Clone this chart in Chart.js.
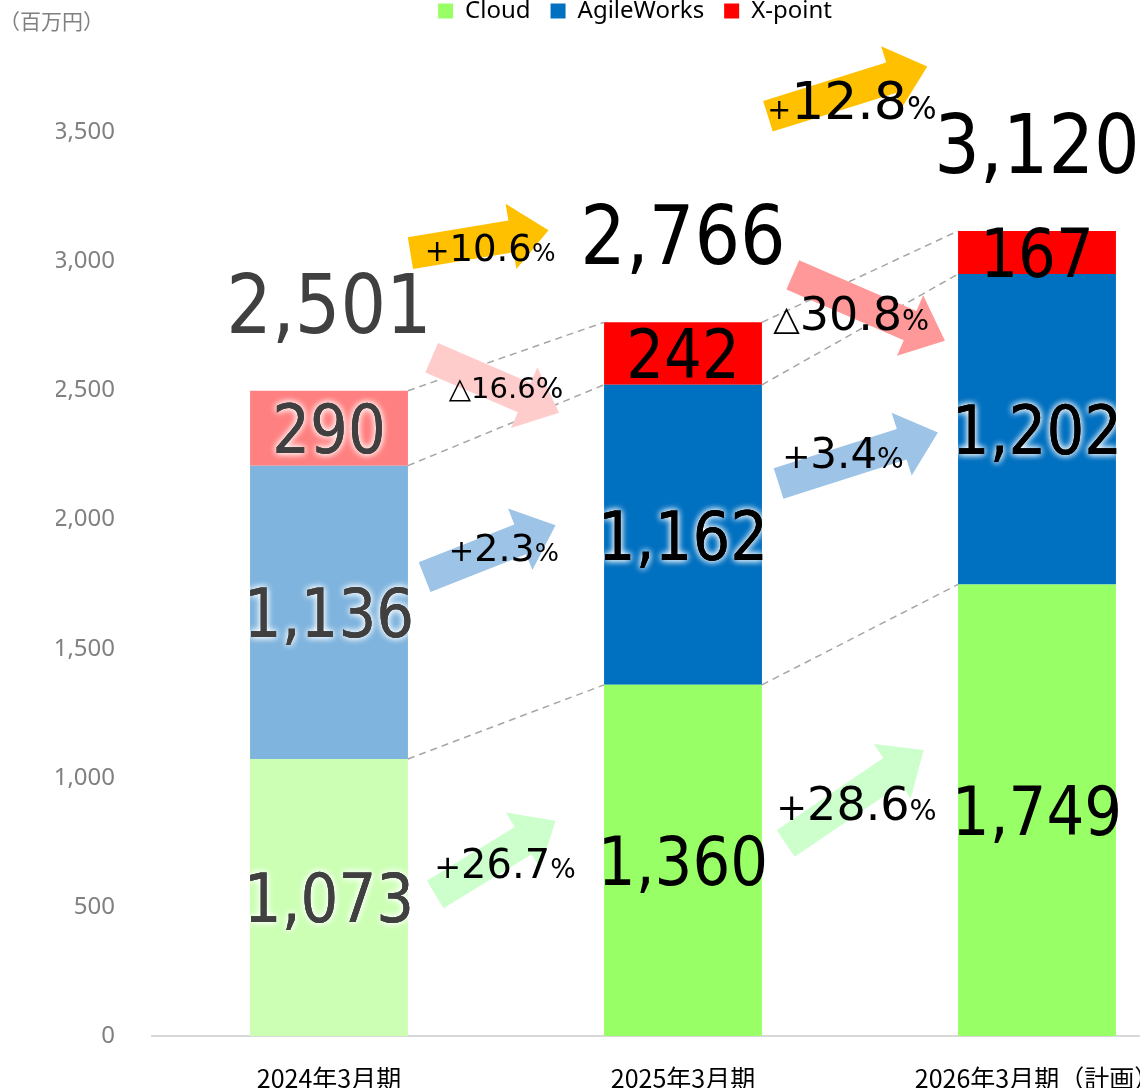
<!DOCTYPE html>
<html>
<head>
<meta charset="utf-8">
<script src="https://cdn.jsdelivr.net/npm/chart.js@4"></script>
<style>
  html, body { margin: 0; padding: 0; background: #fff; overflow: hidden; }
  #wrap { position: relative; width: 1140px; height: 1088px; overflow: hidden; }
  #chart { position: absolute; left: 0; top: -21px; }
</style>
</head>
<body>
<div id="wrap"><canvas id="chart" width="1214" height="1110"></canvas></div>
<script>
const categories = ['2024年3月期', '2025年3月期', '2026年3月期（計画）'];
const seriesNames = ['Cloud', 'AgileWorks', 'X-point'];
const cloud = [1073, 1360, 1749];
const agileWorks = [1136, 1162, 1202];
const xPoint = [290, 242, 167];
const totals = [2501, 2766, 3120];
const yTicks = [0, 500, 1000, 1500, 2000, 2500, 3000, 3500];

// growth rates (%) per series: Cloud, AgileWorks, X-point, total
const growth2025 = ['+26.7', '+2.3', '△16.6', '+10.6'];
const growth2026 = ['+28.6', '+3.4', '△30.8', '+12.8'];

// colours
const cloudColors = ['#ccffb4', '#99ff66', '#99ff66'];
const agileColors = ['#7fb4de', '#0070c0', '#0070c0'];
const xpointColors = ['#ff8080', '#ff0000', '#ff0000'];
const legendColors = ['#99ff66', '#0070c0', '#ff0000'];

// arrows: tail [category pos, value], head [category pos, value], colour
const arrowShapes = [
  [[0.30, 548], [0.64, 834], '#ccffcc'],
  [[0.27, 1777], [0.64, 1978], '#9dc3e6'],
  [[0.29, 2627], [0.65, 2414], '#ffcccc'],
  [[0.23, 3032], [0.62, 3121], '#ffc000'],
  [[1.29, 746], [1.68, 1108], '#ccffcc'],
  [[1.27, 2140], [1.72, 2337], '#9dc3e6'],
  [[1.31, 2948], [1.74, 2693], '#ff9999'],
  [[1.24, 3562], [1.69, 3755], '#ffc000']
];
// growth label centre [category pos, value], font size, prefix scale, % scale
const growthLabelPos = [
  [0.497, 668, 40, 0.8, 0.67],
  [0.494, 1893, 38, 0.8, 0.67],
  [0.50, 2511, 29, 1.0, 1.0],
  [0.455, 3052, 37, 0.8, 0.67],
  [1.49, 900, 46, 0.8, 0.62],
  [1.452, 2260, 42, 0.8, 0.67],
  [1.475, 2801, 46, 0.75, 0.62],
  [1.477, 3624, 52, 0.55, 0.6]
];

const PX_PER_UNIT = 0.2582;
const FONT = '"DejaVu Sans", Verdana, sans-serif';

function drawNumber(ctx, text, cx, cy, size, color, glow) {
  ctx.save();
  ctx.font = size + 'px ' + FONT;
  ctx.textAlign = 'center';
  ctx.textBaseline = 'alphabetic';
  ctx.translate(cx, cy + size * 0.365);
  ctx.scale(0.875, 1);
  ctx.fillStyle = color;
  if (glow) {
    ctx.shadowColor = 'rgba(255,255,255,1)';
    ctx.shadowBlur = 7;
    ctx.fillText(text, 0, 0);
    ctx.fillText(text, 0, 0);
    ctx.shadowBlur = 0;
  }
  ctx.fillText(text, 0, 0);
  ctx.restore();
}

function drawArrow(ctx, x0, y0, x1, y1, color) {
  const ang = Math.atan2(y1 - y0, x1 - x0);
  const len = Math.hypot(x1 - x0, y1 - y0);
  const sw = 16, hw = 33, hl = 38;
  ctx.save();
  ctx.translate(x0, y0);
  ctx.rotate(ang);
  ctx.beginPath();
  ctx.moveTo(0, -sw);
  ctx.lineTo(len - hl, -sw);
  ctx.lineTo(len - hl, -hw);
  ctx.lineTo(len, 0);
  ctx.lineTo(len - hl, hw);
  ctx.lineTo(len - hl, sw);
  ctx.lineTo(0, sw);
  ctx.closePath();
  ctx.fillStyle = color;
  ctx.fill();
  ctx.restore();
}

function drawGrowth(ctx, text, cx, cy, size, preScale, pctScale) {
  const m = text.match(/^([+△])(.*)$/);
  const parts = [
    [m[1], size * preScale],
    [m[2], size],
    ['%', size * pctScale]
  ];
  ctx.save();
  ctx.fillStyle = '#000';
  ctx.textBaseline = 'alphabetic';
  ctx.textAlign = 'left';
  let total = 0;
  parts.forEach(p => { ctx.font = p[1] + 'px ' + FONT; p.push(ctx.measureText(p[0]).width); total += p[2]; });
  let x = cx - total / 2;
  const base = cy + size * 0.365;
  parts.forEach(p => {
    ctx.font = p[1] + 'px ' + FONT;
    ctx.fillText(p[0], x, base);
    x += p[2];
  });
  ctx.restore();
}

const overlayPlugin = {
  id: 'overlay',
  beforeDatasetsDraw(chart) {
    const ctx = chart.ctx;
    ctx.save();
    ctx.strokeStyle = '#a6a6a6';
    ctx.lineWidth = 1.5;
    ctx.setLineDash([7, 5]);
    chart.data.datasets.forEach((ds, d) => {
      const bars = chart.getDatasetMeta(d).data;
      for (let i = 0; i < bars.length - 1; i++) {
        const a = bars[i], b = bars[i + 1];
        ctx.beginPath();
        ctx.moveTo(a.x + a.width / 2, a.y);
        ctx.lineTo(b.x - b.width / 2, b.y);
        ctx.stroke();
      }
    });
    ctx.restore();
  },
  afterDatasetsDraw(chart) {
    const ctx = chart.ctx;
    const xs = chart.scales.x, ys = chart.scales.y;

    arrowShapes.forEach(a => {
      drawArrow(ctx, xs.getPixelForValue(a[0][0]), ys.getPixelForValue(a[0][1]),
        xs.getPixelForValue(a[1][0]), ys.getPixelForValue(a[1][1]), a[2]);
    });

    const growthTexts = growth2025.concat(growth2026);
    growthTexts.forEach((t, i) => {
      const p = growthLabelPos[i];
      drawGrowth(ctx, t, xs.getPixelForValue(p[0]), ys.getPixelForValue(p[1]), p[2], p[3], p[4]);
    });

    // segment labels
    chart.data.datasets.forEach((ds, d) => {
      chart.getDatasetMeta(d).data.forEach((bar, i) => {
        const color = i === 0 ? '#404040' : '#000';
        const glow = i === 0 || d === 1;
        drawNumber(ctx, ds.data[i].toLocaleString('en-US'), bar.x, (bar.y + bar.base) / 2, 68, color, glow);
      });
    });

    // totals
    const top = chart.getDatasetMeta(2).data;
    totals.forEach((t, i) => {
      drawNumber(ctx, t.toLocaleString('en-US'), top[i].x, top[i].y - 88, 82, i === 0 ? '#404040' : '#000', false);
    });

    // unit
    ctx.save();
    ctx.font = '21px "Noto Sans CJK JP"';
    ctx.fillStyle = '#808080';
    ctx.textAlign = 'left';
    ctx.textBaseline = 'middle';
    ctx.fillText('（百万円）', -1, 42);
    ctx.restore();
  }
};

const chart = new Chart(document.getElementById('chart'), {
  type: 'bar',
  data: {
    labels: categories,
    datasets: [
      { label: seriesNames[0], data: cloud, backgroundColor: cloudColors },
      { label: seriesNames[1], data: agileWorks, backgroundColor: agileColors },
      { label: seriesNames[2], data: xPoint, backgroundColor: xpointColors }
    ]
  },
  options: {
    responsive: false,
    animation: false,
    layout: { padding: { left: 56, right: 0, top: 0, bottom: 0 } },
    datasets: { bar: { barPercentage: 0.446, categoryPercentage: 1, borderWidth: 0 } },
    plugins: {
      tooltip: { enabled: false },
      legend: {
        position: 'top',
        labels: {
          color: '#808080',
          font: { family: '"Noto Sans"', size: 24 },
          boxWidth: 15,
          boxHeight: 15,
          padding: 20,
          generateLabels: () => seriesNames.map((n, i) => ({
            text: n, fillStyle: legendColors[i], strokeStyle: legendColors[i],
            lineWidth: 0, hidden: false, datasetIndex: i
          }))
        }
      }
    },
    scales: {
      x: {
        stacked: true,
        grid: { display: false, drawTicks: false },
        border: { display: true, color: '#d9d9d9', width: 2 },
        ticks: {
          color: '#000',
          font: { family: '"Noto Sans CJK JP"', size: 25 },
          padding: 27,
          maxRotation: 0,
          autoSkip: false
        },
        afterFit: s => { s.height = 53; }
      },
      y: {
        stacked: true,
        min: 0,
        max: 3880,
        grid: { display: false, drawTicks: false },
        border: { display: false },
        ticks: {
          color: '#808080',
          font: { family: '"Noto Sans"', size: 24 },
          padding: 37,
          callback: v => v.toLocaleString('en-US')
        },
        afterBuildTicks: s => { s.ticks = yTicks.map(v => ({ value: v })); },
        afterFit: s => { s.width = 96; }
      }
    }
  },
  plugins: [overlayPlugin]
});

// keep the value scale at the same pixels per unit as the original
const area = chart.chartArea;
chart.options.scales.y.max = (area.bottom - area.top) / PX_PER_UNIT;
chart.update('none');
</script>
</body>
</html>
